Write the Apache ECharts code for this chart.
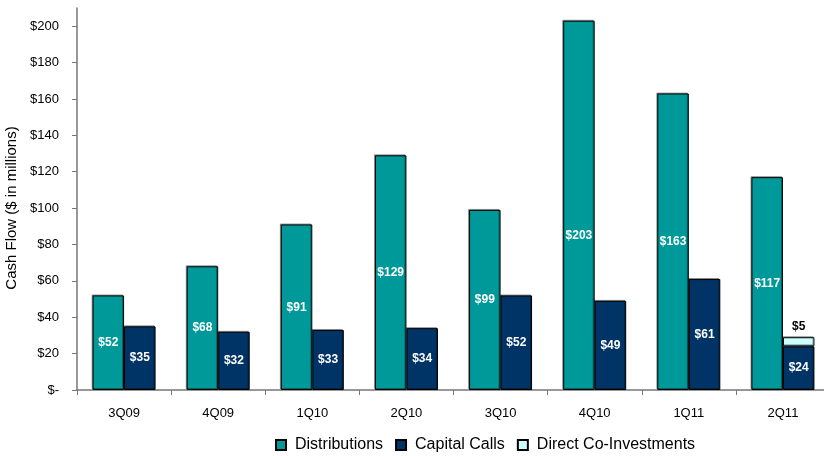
<!DOCTYPE html>
<html>
<head>
<meta charset="utf-8">
<script src="https://cdn.jsdelivr.net/npm/echarts@6/dist/echarts.min.js"></script>
<style>html,body{margin:0;padding:0;background:#fff}#c{width:824px;height:456px}</style>
</head>
<body>
<div id="c"></div>
<script>
const categories = ['3Q09','4Q09','1Q10','2Q10','3Q10','4Q10','1Q11','2Q11'];
const distributions = [52,68,91,129,99,203,163,117];
const capitalCalls = [35,32,33,34,52,49,61,24];
const coInvestments = ['-','-','-','-','-','-','-',5];
const yTicks = [0,20,40,60,80,100,120,140,160,180,200];

const font = 'Arial, "Liberation Sans", sans-serif';
const chart = echarts.init(document.getElementById('c'));
const barStyle = c => ({color:c, borderColor:'#000', borderWidth:1, shadowColor:'rgba(0,0,0,0.35)', shadowOffsetX:-1, shadowOffsetY:-1, shadowBlur:0});
const inLabel = {show:true, position:'inside', color:'#fff', fontWeight:'bold', fontSize:12, fontFamily:font, formatter: p => '$' + p.value};

chart.setOption({
  animation:false,
  grid:{left:77, right:-6, top:8, bottom:66, outerBoundsMode:'none', containLabel:false},
  legend:{
    top:432, left:270, icon:'rect', itemWidth:10, itemHeight:10, itemGap:12,
    textStyle:{fontSize:16, fontFamily:font, color:'#000', padding:[0,0,0,4]},
    data:['Distributions','Capital Calls','Direct Co-Investments']
  },
  xAxis:{
    type:'category', data:categories,
    axisLine:{lineStyle:{color:'#777', width:1.5}},
    axisTick:{show:true, length:5, lineStyle:{color:'#777'}},
    axisLabel:{color:'#000', fontSize:13, fontFamily:font, margin:17}
  },
  yAxis:{
    type:'value', min:0, max:210,
    name:'Cash Flow ($ in millions)', nameLocation:'middle', nameGap:55,
    nameTextStyle:{fontSize:15, fontFamily:font, color:'#000', padding:[0,18,0,0]},
    axisLine:{show:true, lineStyle:{color:'#777', width:1.5}},
    axisTick:{show:true, length:5, lineStyle:{color:'#777'}, customValues:yTicks},
    axisLabel:{color:'#000', fontSize:13, fontFamily:font, margin:18, customValues:yTicks,
      formatter: v => v === 0 ? '$-' : '$' + v},
    splitLine:{show:false}
  },
  series:[
    {name:'Distributions', type:'bar', barWidth:31.5, barGap:'0%',
      itemStyle:barStyle('#009999'), label:inLabel,
      data: distributions.map((v,i) => i === 5 ? {value:v, label:{offset:[0,30]}} : v)},
    {name:'Capital Calls', type:'bar', stack:'cc', barWidth:31.5,
      itemStyle:barStyle('#003366'), label:inLabel, data:capitalCalls},
    {name:'Direct Co-Investments', type:'bar', stack:'cc', barWidth:31.5,
      itemStyle:barStyle('#ccffff'),
      label:{show:true, position:'top', color:'#000', fontWeight:'bold', fontSize:12, fontFamily:font, distance:5, formatter: p => '$' + p.value},
      data:coInvestments}
  ]
});
</script>
</body>
</html>
